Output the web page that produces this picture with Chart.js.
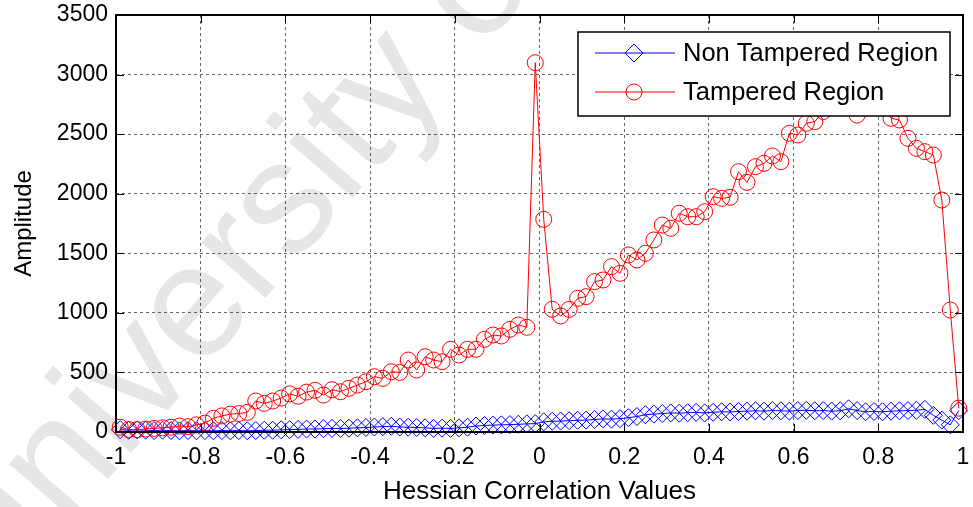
<!DOCTYPE html>
<html>
<head>
<meta charset="utf-8">
<script src="https://cdn.jsdelivr.net/npm/chart.js@4.4.0/dist/chart.umd.min.js"></script>
<style>
  html, body { margin: 0; padding: 0; background: #fff; }
  #wrap { width: 973px; height: 507px; }
</style>
</head>
<body>
<div id="wrap"><canvas id="hessianChart" width="973" height="507"></canvas></div>
<script>
// bin centres of the histogram (x axis)
var correlationValues = [
  -0.99, -0.97, -0.95, -0.93, -0.91, -0.89, -0.87, -0.85, -0.83, -0.81,
  -0.79, -0.77, -0.75, -0.73, -0.71, -0.69, -0.67, -0.65, -0.63, -0.61,
  -0.59, -0.57, -0.55, -0.53, -0.51, -0.49, -0.47, -0.45, -0.43, -0.41,
  -0.39, -0.37, -0.35, -0.33, -0.31, -0.29, -0.27, -0.25, -0.23, -0.21,
  -0.19, -0.17, -0.15, -0.13, -0.11, -0.09, -0.07, -0.05, -0.03, -0.01,
  0.01, 0.03, 0.05, 0.07, 0.09, 0.11, 0.13, 0.15, 0.17, 0.19,
  0.21, 0.23, 0.25, 0.27, 0.29, 0.31, 0.33, 0.35, 0.37, 0.39,
  0.41, 0.43, 0.45, 0.47, 0.49, 0.51, 0.53, 0.55, 0.57, 0.59,
  0.61, 0.63, 0.65, 0.67, 0.69, 0.71, 0.73, 0.75, 0.77, 0.79,
  0.81, 0.83, 0.85, 0.87, 0.89, 0.91, 0.93, 0.95, 0.97, 0.99
];

var nonTamperedCounts = [
  20, 15, 18, 15, 12, 15, 12, 10, 12, 10,
  12, 10, 12, 10, 12, 10, 12, 15, 15, 18,
  20, 22, 25, 25, 28, 30, 30, 32, 35, 38,
  42, 45, 48, 42, 40, 38, 35, 30, 32, 30,
  35, 40, 50, 55, 58, 60, 62, 65, 68, 70,
  85, 90, 92, 95, 98, 100, 105, 110, 108, 112,
  120, 130, 145, 150, 155, 160, 158, 162, 165, 160,
  165, 170, 168, 172, 175, 178, 175, 180, 178, 175,
  180, 182, 178, 180, 175, 178, 195, 180, 170, 172,
  170, 175, 178, 180, 182, 190, 140, 100, 60, 180
];

var tamperedCounts = [
  40, 20, 20, 25, 30, 35, 40, 50, 45, 60,
  75, 115, 135, 150, 155, 165, 260, 240, 260, 285,
  320, 300, 335, 350, 310, 355, 338, 367, 394, 422,
  464, 450, 506, 500, 604, 520, 632, 604, 590, 694,
  646, 694, 694, 778, 814, 806, 862, 898, 879, 3100,
  1785, 1030, 974, 1030, 1122, 1136, 1262, 1276, 1388, 1332,
  1486, 1444, 1500, 1612, 1737, 1710, 1836, 1807, 1807, 1849,
  1975, 1961, 1970, 2185, 2095, 2227, 2255, 2317, 2269, 2507,
  2493, 2591, 2605, 2690, 2750, 2800, 2850, 2660, 2850, 2800,
  2750, 2633, 2619, 2465, 2381, 2353, 2325, 1947, 1024, 200
];

var xTicks = [-1, -0.8, -0.6, -0.4, -0.2, 0, 0.2, 0.4, 0.6, 0.8, 1];
var yTicks = [0, 500, 1000, 1500, 2000, 2500, 3000, 3500];
var seriesNames = ['Non Tampered Region', 'Tampered Region'];
var seriesColors = ['#0000ff', '#ff0000'];

var fontFamily = '"Liberation Sans", Arial, sans-serif';

function toPoints(values) {
  var pts = [];
  for (var i = 0; i < values.length; i++) {
    pts.push({ x: correlationValues[i], y: values[i] });
  }
  return pts;
}

// faint diagonal watermark behind everything
var watermark = {
  id: 'watermark',
  beforeDraw: function (chart) {
    var ctx = chart.ctx;
    ctx.save();
    ctx.fillStyle = '#fff';
    ctx.fillRect(0, 0, chart.width, chart.height);
    ctx.translate(-10, 615);
    ctx.rotate(-49 * Math.PI / 180);
    ctx.font = '160px ' + fontFamily;
    ctx.fillStyle = '#e6e6e6';
    ctx.textBaseline = 'alphabetic';
    ctx.fillText('University of Malaya', 0, 0);
    ctx.restore();
  }
};

// matlab style box, inward ticks and boxed legend
var matlabBox = {
  id: 'matlabBox',
  afterDatasetsDraw: function (chart) {
    var ctx = chart.ctx;
    var a = chart.chartArea;
    var xs = chart.scales.x, ys = chart.scales.y;
    ctx.save();
    ctx.strokeStyle = '#000';
    ctx.lineWidth = 1;
    ctx.setLineDash([]);
    ctx.beginPath();
    xTicks.forEach(function (v) {
      var px = Math.round(xs.getPixelForValue(v)) + 0.5;
      ctx.moveTo(px, a.bottom); ctx.lineTo(px, a.bottom - 8);
      ctx.moveTo(px, a.top); ctx.lineTo(px, a.top + 8);
    });
    yTicks.forEach(function (v) {
      var py = Math.round(ys.getPixelForValue(v)) + 0.5;
      ctx.moveTo(a.left, py); ctx.lineTo(a.left + 8, py);
      ctx.moveTo(a.right, py); ctx.lineTo(a.right - 8, py);
    });
    ctx.stroke();
    ctx.lineWidth = 2;
    ctx.strokeRect(a.left, a.top, a.right - a.left, a.bottom - a.top);

    // legend
    var bw = 372, bh = 84;
    var bx = a.right - 13 - bw, by = a.top + 17;
    ctx.fillStyle = '#fff';
    ctx.fillRect(bx, by, bw, bh);
    ctx.lineWidth = 1.5;
    ctx.strokeStyle = '#000';
    ctx.strokeRect(bx, by, bw, bh);
    ctx.font = '25.5px ' + fontFamily;
    ctx.textBaseline = 'middle';
    for (var i = 0; i < seriesNames.length; i++) {
      var ry = by + 21 + i * 39;
      var ds = chart.data.datasets[i];
      ctx.strokeStyle = seriesColors[i];
      ctx.lineWidth = 1;
      ctx.beginPath();
      ctx.moveTo(bx + 17, ry); ctx.lineTo(bx + 97, ry);
      ctx.stroke();
      ctx.fillStyle = 'rgba(0,0,0,0)';
      Chart.helpers.drawPoint(ctx, {
        pointStyle: ds.pointStyle, radius: ds.pointRadius, borderWidth: 1, rotation: 0
      }, bx + 56, ry);
      ctx.fillStyle = '#000';
      ctx.fillText(seriesNames[i], bx + 105, ry + 1);
    }
    ctx.restore();
  }
};

var ctxC = document.getElementById('hessianChart').getContext('2d');
var hessianChart = new Chart(ctxC, {
  type: 'line',
  data: {
    datasets: [{
      label: seriesNames[0],
      data: toPoints(nonTamperedCounts),
      borderColor: seriesColors[0],
      backgroundColor: 'transparent',
      borderWidth: 1,
      pointStyle: 'rectRot',
      pointRadius: 9,
      pointBorderWidth: 1,
      pointBorderColor: seriesColors[0],
      pointBackgroundColor: 'transparent',
      tension: 0,
      order: 1
    }, {
      label: seriesNames[1],
      data: toPoints(tamperedCounts),
      borderColor: seriesColors[1],
      backgroundColor: 'transparent',
      borderWidth: 1,
      pointStyle: 'circle',
      pointRadius: 8,
      pointBorderWidth: 1,
      pointBorderColor: seriesColors[1],
      pointBackgroundColor: 'transparent',
      tension: 0,
      order: 0
    }]
  },
  options: {
    responsive: false,
    animation: false,
    clip: false,
    layout: { padding: { left: 0, right: 10, top: 15, bottom: 0 } },
    plugins: {
      legend: { display: false },
      tooltip: { enabled: false }
    },
    scales: {
      x: {
        type: 'linear',
        min: -1,
        max: 1,
        afterBuildTicks: function (s) { s.ticks = xTicks.map(function (v) { return { value: v }; }); },
        afterFit: function (s) { s.height = 75; s.paddingLeft = 0; s.paddingRight = 0; },
        ticks: {
          color: '#000',
          padding: 12,
          maxRotation: 0,
          font: { family: fontFamily, size: 23 },
          callback: function (v) { return String(v); }
        },
        grid: { color: 'rgba(0,0,0,0.6)', lineWidth: 1, drawTicks: false },
        border: { display: false, dash: [3, 3] },
        title: {
          display: true,
          text: 'Hessian Correlation Values',
          color: '#000',
          font: { family: fontFamily, size: 26 },
          padding: { top: 0, bottom: 0 }
        }
      },
      y: {
        min: 0,
        max: 3500,
        afterBuildTicks: function (s) { s.ticks = yTicks.map(function (v) { return { value: v }; }); },
        afterFit: function (s) { s.width = 116; s.paddingTop = 0; s.paddingBottom = 0; },
        ticks: {
          color: '#000',
          padding: 8,
          font: { family: fontFamily, size: 23 },
          callback: function (v) { return String(v); }
        },
        grid: { color: 'rgba(0,0,0,0.6)', lineWidth: 1, drawTicks: false },
        border: { display: false, dash: [3, 3] },
        title: {
          display: true,
          text: 'Amplitude',
          color: '#000',
          font: { family: fontFamily, size: 24 },
          padding: { top: 10, bottom: 0 }
        }
      }
    }
  },
  plugins: [watermark, matlabBox]
});
</script>
</body>
</html>
